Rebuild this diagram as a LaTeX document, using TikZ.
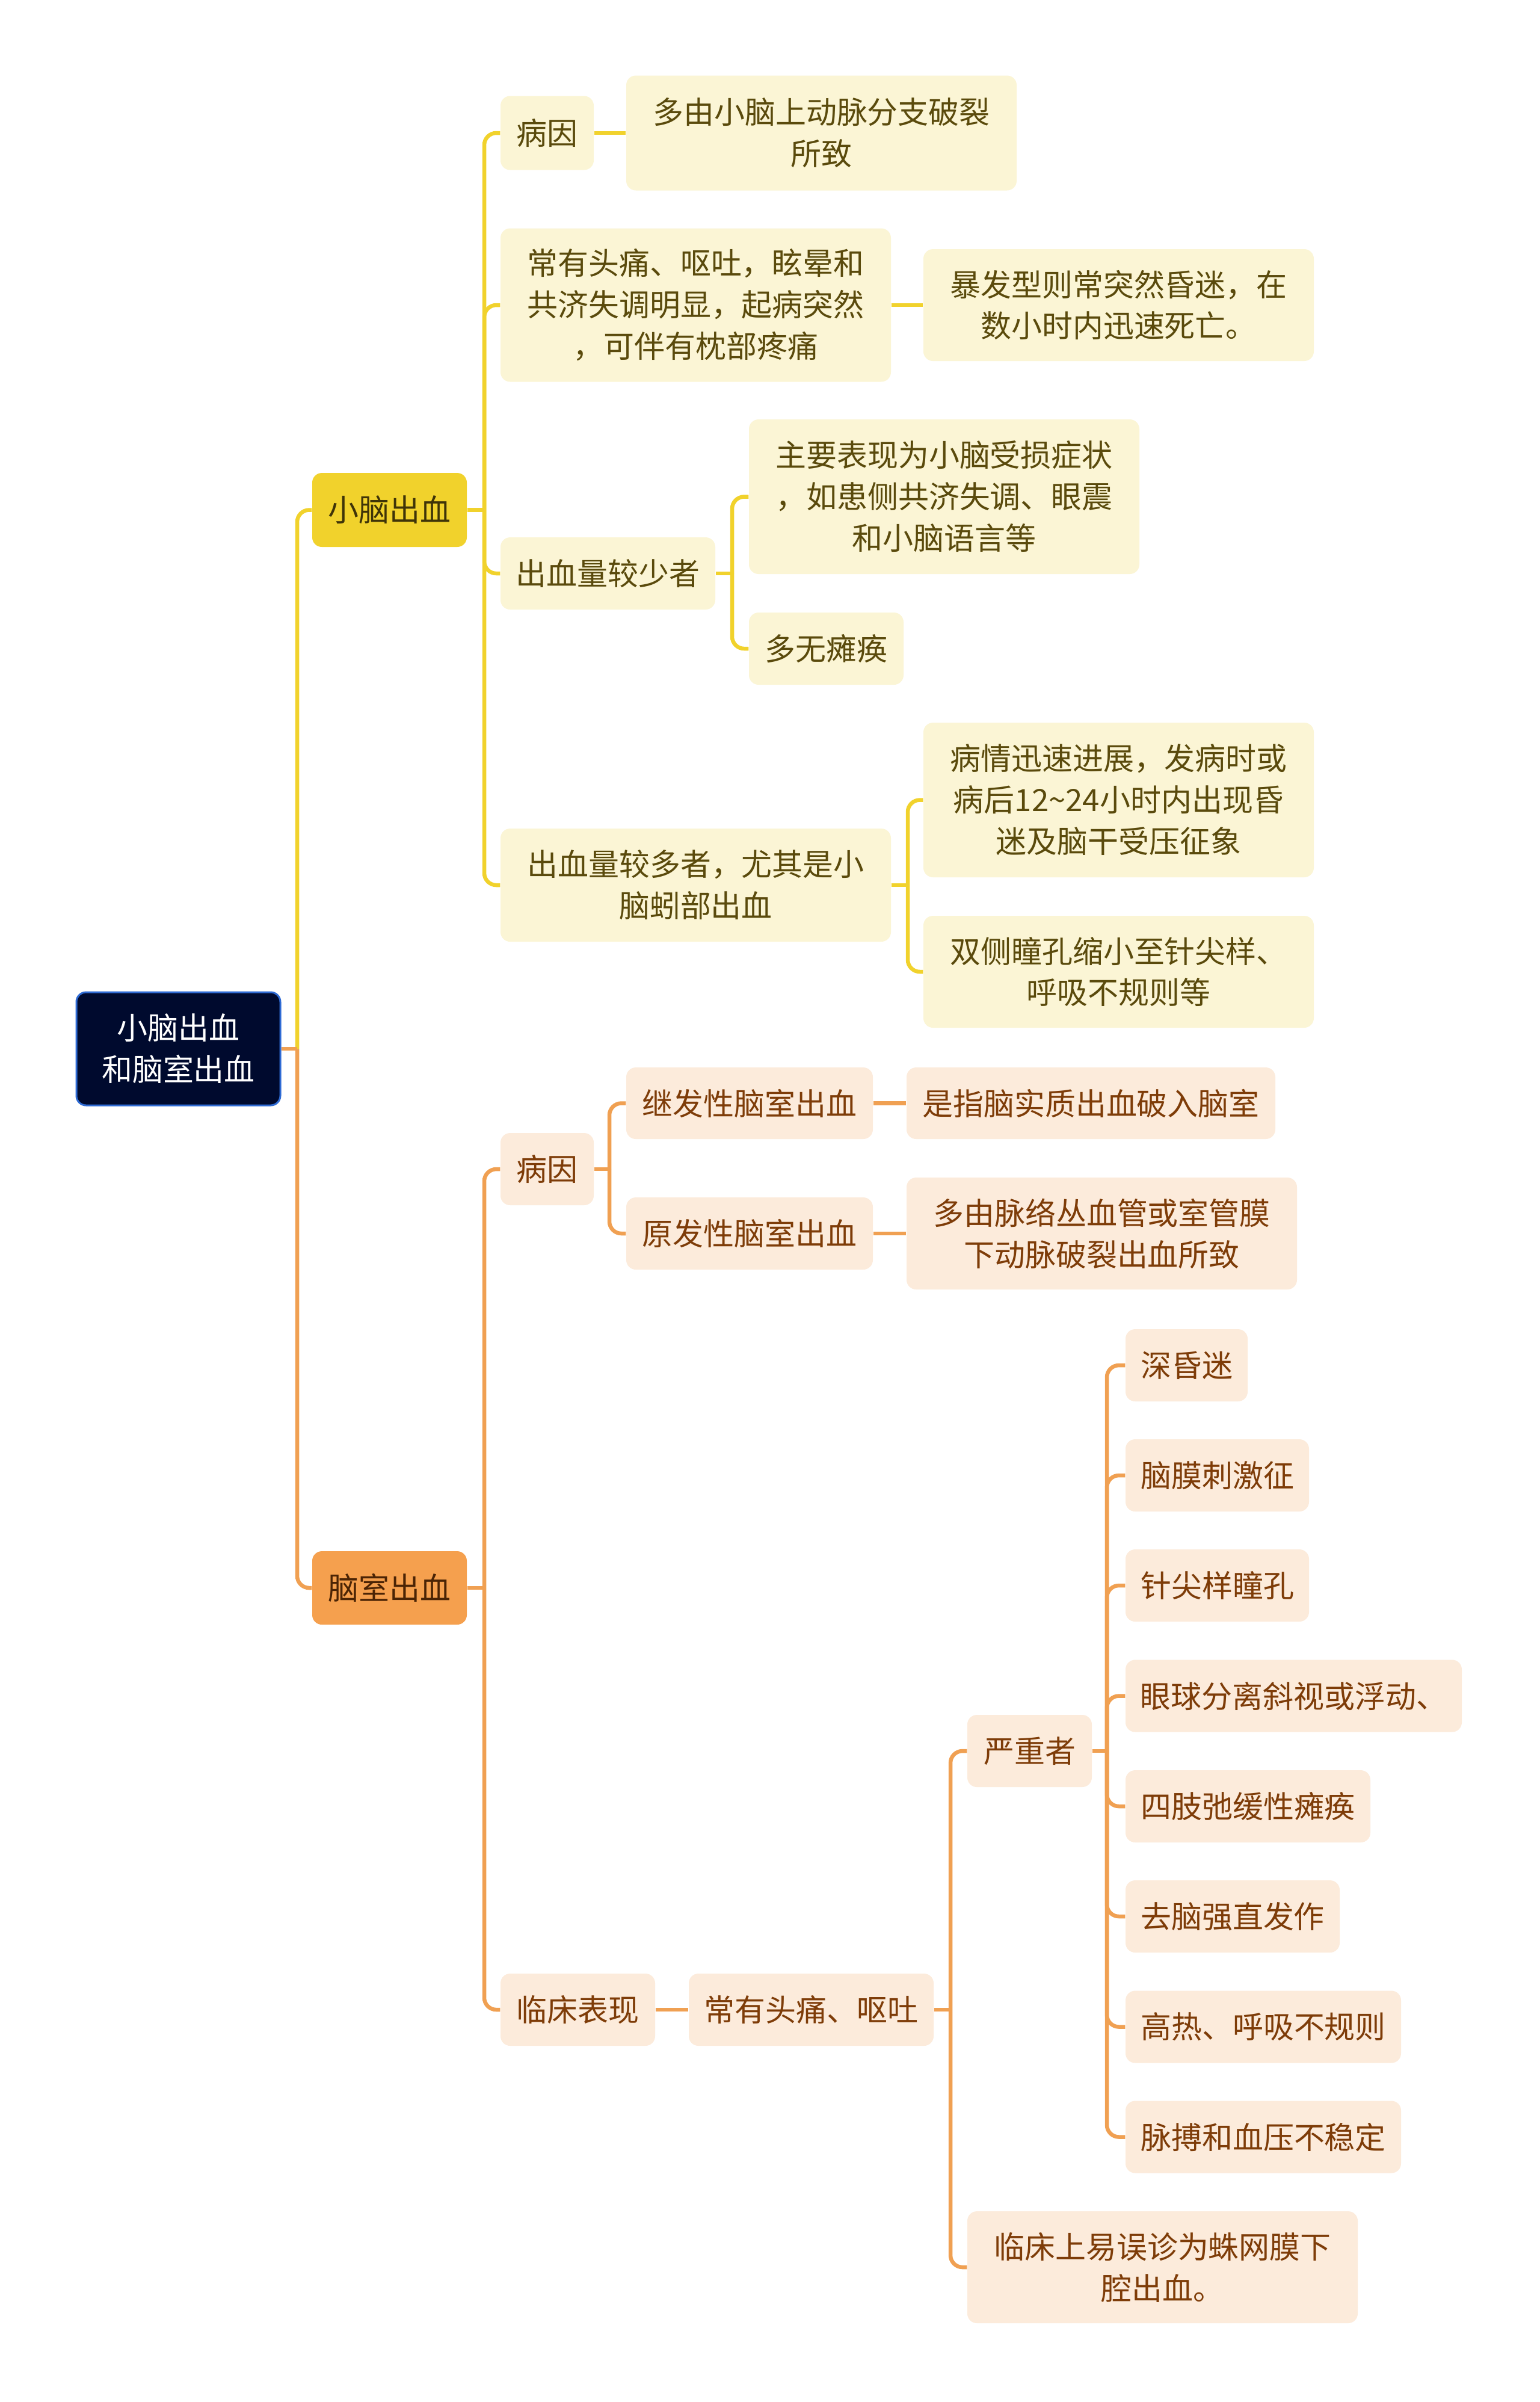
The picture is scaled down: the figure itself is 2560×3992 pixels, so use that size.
\documentclass[tikz,border=0pt]{standalone}
\usepackage{fontspec}
\newfontfamily\cjk{Noto Sans CJK SC}
\usetikzlibrary{positioning}
\definecolor{rootfill}{HTML}{000A2E}
\definecolor{rootedge}{HTML}{2F6BD4}
\definecolor{ymain}{HTML}{F1D22C}
\definecolor{ylight}{HTML}{FBF5D5}
\definecolor{ytext}{HTML}{5A4A0C}
\definecolor{omain}{HTML}{F5A04E}
\definecolor{olight}{HTML}{FCEBDB}
\definecolor{otext}{HTML}{7E3C08}
\definecolor{oline}{HTML}{F0A052}

\tikzset{
  mbox/.style={rounded corners=0.16cm, inner sep=0pt, align=center, font=\cjk\fontsize{14.5}{19.6}\selectfont},
  wh/.style 2 args={minimum width=#1*0.01cm, minimum height=#2*0.01cm},
  rootbox/.style={mbox, fill=rootfill, draw=rootedge, line width=0.03cm, text=white},
  ytop/.style={mbox, fill=ymain, text=ytext!70!black},
  otop/.style={mbox, fill=omain, text=otext!60!black},
  ybox/.style={mbox, fill=ylight, text=ytext},
  obox/.style={mbox, fill=olight, text=otext},
  yline/.style={draw=ymain, line width=0.065cm, rounded corners=0.2cm},
  oline/.style={draw=oline, line width=0.065cm, rounded corners=0.2cm}
}

\begin{document}
\begin{tikzpicture}[x=0.01cm, y=-0.01cm]
  \useasboundingbox[fill=white] (0,0) rectangle (2560,3992);

  % trunks
  \coordinate (t0) at (494,0);
  \coordinate (ty) at (805,0);
  \coordinate (tyc) at (1217,0);
  \coordinate (tyd) at (1509,0);
  \coordinate (toa) at (1013,0);
  \coordinate (tob) at (1580,0);
  \coordinate (tos) at (1840,0);

  % root and main branches
  \node[rootbox, wh={339}{188}] (root) at (296.5,1743) {小脑出血\\和脑室出血};
  \node[ytop, wh={257}{123}] (cer) at (647.5,847.5) {小脑出血};
  \node[otop, wh={257}{122}] (ven) at (647.5,2639) {脑室出血};

  % 小脑出血
  \node[ybox, wh={155}{123}] (ycause) at (909.5,221) {病因};
  \node[ybox, wh={649}{191}] (ycause1) at (1365.5,221) {多由小脑上动脉分支破裂\\所致};
  \node[ybox, wh={649}{255}] (ysymp) at (1156.5,507) {常有头痛、呕吐，眩晕和\\共济失调明显，起病突然\\，可伴有枕部疼痛};
  \node[ybox, wh={649}{186}] (ysymp1) at (1859.5,507) {暴发型则常突然昏迷，在\\数小时内迅速死亡。};
  \node[ybox, wh={357}{120}] (yless) at (1010.5,953) {出血量较少者};
  \node[ybox, wh={649}{257}] (yless1) at (1569.5,825.5) {主要表现为小脑受损症状\\，如患侧共济失调、眼震\\和小脑语言等};
  \node[ybox, wh={257}{120}] (yless2) at (1373.5,1078) {多无瘫痪};
  \node[ybox, wh={649}{188}] (ymore) at (1156.5,1471) {出血量较多者，尤其是小\\脑蚓部出血};
  \node[ybox, wh={649}{257}] (ymore1) at (1859.5,1329.5) {病情迅速进展，发病时或\\病后12\textasciitilde24小时内出现昏\\迷及脑干受压征象};
  \node[ybox, wh={649}{186}] (ymore2) at (1859.5,1615) {双侧瞳孔缩小至针尖样、\\呼吸不规则等};

  % 脑室出血
  \node[obox, wh={155}{120}] (ocause) at (909.5,1943) {病因};
  \node[obox, wh={410}{119}] (osec) at (1246,1833.5) {继发性脑室出血};
  \node[obox, wh={613}{119}] (osec1) at (1813.5,1833.5) {是指脑实质出血破入脑室};
  \node[obox, wh={410}{120}] (oprim) at (1246,2050) {原发性脑室出血};
  \node[obox, wh={649}{186}] (oprim1) at (1831.5,2050) {多由脉络丛血管或室管膜\\下动脉破裂出血所致};
  \node[obox, wh={257}{120}] (oclin) at (960.5,3340) {临床表现};
  \node[obox, wh={407}{120}] (ohead) at (1348.5,3340) {常有头痛、呕吐};
  \node[obox, wh={207}{120}] (osev) at (1711.5,2910) {严重者};
  \node[obox, wh={649}{186}] (omis) at (1932.5,3768) {临床上易误诊为蛛网膜下\\腔出血。};
  \node[obox, wh={203}{120}] (s1) at (1972.5,2269) {深昏迷};
  \node[obox, wh={305}{120}] (s2) at (2023.5,2452) {脑膜刺激征};
  \node[obox, wh={305}{120}] (s3) at (2023.5,2635) {针尖样瞳孔};
  \node[obox, wh={559}{120}] (s4) at (2150.5,2818.5) {眼球分离斜视或浮动、};
  \node[obox, wh={407}{120}] (s5) at (2074.5,3002) {四肢弛缓性瘫痪};
  \node[obox, wh={356}{120}] (s6) at (2049,3185) {去脑强直发作};
  \node[obox, wh={458}{120}] (s7) at (2100,3368.5) {高热、呼吸不规则};
  \node[obox, wh={458}{120}] (s8) at (2100,3551.5) {脉搏和血压不稳定};

  % connectors
  \draw[yline] (root.east -| t0) |- (cer.west);
  \draw[oline] (root.east) -- (root.east -| t0);
  \draw[oline] (root.east -| t0) |- (ven.west);

  \draw[yline] (cer.east) -- (cer.east -| ty);
  \foreach \c in {ycause,ysymp,yless,ymore}
    \draw[yline] (cer.east -| ty) |- (\c.west);
  \draw[yline] (ycause.east) -- (ycause1.west);
  \draw[yline] (ysymp.east) -- (ysymp1.west);
  \draw[yline] (yless.east) -- (yless.east -| tyc);
  \foreach \c in {yless1,yless2}
    \draw[yline] (yless.east -| tyc) |- (\c.west);
  \draw[yline] (ymore.east) -- (ymore.east -| tyd);
  \foreach \c in {ymore1,ymore2}
    \draw[yline] (ymore.east -| tyd) |- (\c.west);

  \draw[oline] (ven.east) -- (ven.east -| ty);
  \foreach \c in {ocause,oclin}
    \draw[oline] (ven.east -| ty) |- (\c.west);
  \draw[oline] (ocause.east) -- (ocause.east -| toa);
  \foreach \c in {osec,oprim}
    \draw[oline] (ocause.east -| toa) |- (\c.west);
  \draw[oline] (osec.east) -- (osec1.west);
  \draw[oline] (oprim.east) -- (oprim1.west);
  \draw[oline] (oclin.east) -- (ohead.west);
  \draw[oline] (ohead.east) -- (ohead.east -| tob);
  \foreach \c in {osev,omis}
    \draw[oline] (ohead.east -| tob) |- (\c.west);
  \draw[oline] (osev.east) -- (osev.east -| tos);
  \foreach \c in {s1,s2,s3,s4,s5,s6,s7,s8}
    \draw[oline] (osev.east -| tos) |- (\c.west);
\end{tikzpicture}
\end{document}
